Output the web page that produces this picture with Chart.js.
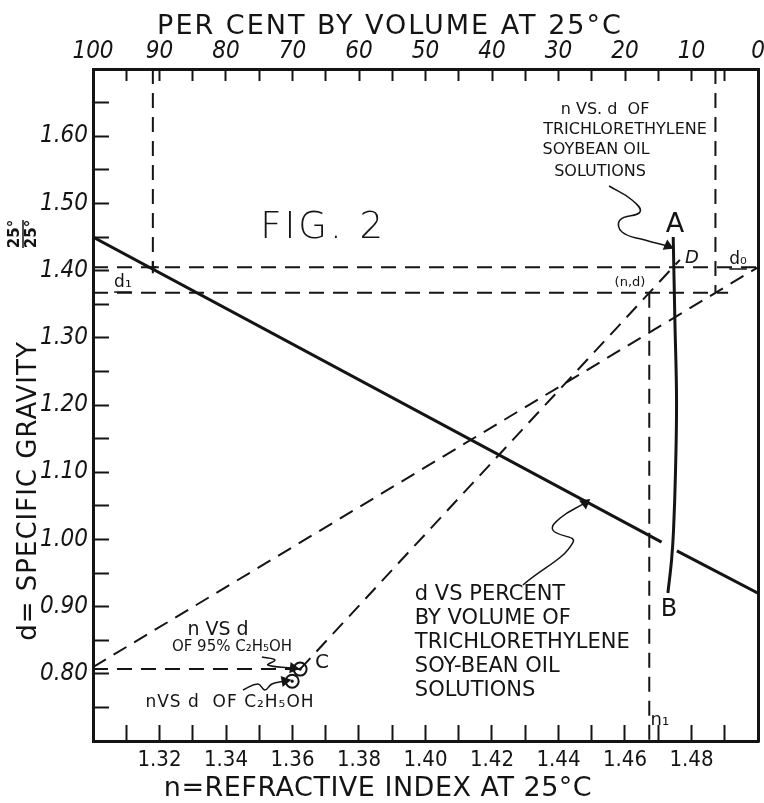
<!DOCTYPE html>
<html>
<head>
<meta charset="utf-8">
<title>Fig. 2</title>
<script src="https://cdn.jsdelivr.net/npm/chart.js@4.4.1/dist/chart.umd.min.js"></script>
<style>
    html, body { margin: 0; padding: 0; background: #fff; }
    canvas { display: block; }
</style>
</head>
<body>
<canvas id="fig2" width="764" height="803"></canvas>
<script>
// tick labels
const indexTicks = [1.32, 1.34, 1.36, 1.38, 1.40, 1.42, 1.44, 1.46, 1.48];
const gravityTicks = [0.80, 0.90, 1.00, 1.10, 1.20, 1.30, 1.40, 1.50, 1.60];
const percentTicks = [100, 90, 80, 70, 60, 50, 40, 30, 20, 10, 0];

// d vs per cent by volume (solid line, broken where A-B crosses it)
const pctVolume = [100, 14.5, 13.3, 12.2, 0];
const pctGravity = [1.45, 0.996, null, 0.983, 0.92];

// n vs d curve A - B
const abIndex = [1.4745, 1.4750, 1.4755, 1.4752, 1.4746, 1.4740, 1.4729];
const abGravity = [1.45, 1.3265, 1.2074, 1.1033, 1.0140, 0.9693, 0.9202];

// dashed construction lines (n, d)
const guideIndex = [
    [1.30, 1.50],      // d0
    [1.30, 1.491],     // d1
    [1.30, 1.3623],    // 95% alcohol level
    [1.30, 1.50],      // 0.81 -> d0
    [1.3623, 1.4765],  // C -> D
    [1.4673, 1.4673],  // n1
    [1.4872, 1.4872]
];
const guideGravity = [
    [1.405, 1.405],
    [1.367, 1.367],
    [0.807, 0.807],
    [0.81, 1.405],
    [0.807, 1.416],
    [1.367, 0.70],
    [1.70, 1.367]
];
// dashed line on the per cent scale
const guidePct = [91, 91];
const guidePctGravity = [1.70, 1.405];

// C (95% C2H5OH) and C2H5OH points
const markIndex = [1.3623, 1.3599];
const markGravity = [0.807, 0.789];

// leader arrows
const leaderIndex = [
    [1.4552, 1.4621, 1.4645, 1.4585, 1.4591, 1.4660, 1.4729],
    [1.4293, 1.4444, 1.4383, 1.4405, 1.4480],
    [1.3451, 1.3496, 1.3517, 1.3538, 1.3577],
    [1.3508, 1.3547, 1.3526, 1.3602]
];
const leaderGravity = [
    [1.5259, 1.5051, 1.4872, 1.4753, 1.4574, 1.4455, 1.4366],
    [0.9321, 0.9961, 1.0140, 1.0318, 1.0542],
    [0.7759, 0.7848, 0.7759, 0.7848, 0.7893],
    [0.825, 0.8205, 0.8131, 0.8086]
];
const leaderTurn = [114, 52, 80, 97];

const INK = '#141414';
const HAND = "'DejaVu Sans', sans-serif";
const NARROW = "'Liberation Sans Narrow', 'DejaVu Sans Condensed', 'DejaVu Sans', sans-serif";

// text written on the chart, placed at (n, d)
const notes = [
    { text: 'FIG. 2', at: [1.3692, 1.4634], font: '200 37px ' + HAND, spacing: '3px' },
    { text: 'n VS. d  OF', at: [1.4540, 1.6390], font: '16px ' + HAND },
    { text: 'TRICHLORETHYLENE', at: [1.4600, 1.6092], font: '16px ' + HAND },
    { text: 'SOYBEAN OIL', at: [1.4513, 1.5795], font: '16px ' + HAND },
    { text: 'SOLUTIONS', at: [1.4525, 1.5467], font: '16px ' + HAND },
    { text: 'A', at: [1.4750, 1.4679], font: '27px ' + HAND },
    { text: 'D', at: [1.4801, 1.4188], font: 'italic 18px ' + HAND },
    { text: 'd₀', at: [1.4940, 1.4158], font: '17px ' + HAND, underline: true },
    { text: '(n,d)', at: [1.4615, 1.3815], font: '13px ' + HAND },
    { text: 'd₁', at: [1.3090, 1.3815], font: '17px ' + HAND, underline: true },
    { text: 'B', at: [1.4732, 0.8949], font: '24px ' + HAND },
    { text: 'n₁', at: [1.4705, 0.7313], font: '18px ' + HAND },
    { text: 'd VS PERCENT', at: [1.3968, 0.9173], font: '21px ' + HAND, align: 'left' },
    { text: 'BY VOLUME OF', at: [1.3968, 0.8815], font: '21px ' + HAND, align: 'left' },
    { text: 'TRICHLORETHYLENE', at: [1.3968, 0.8458], font: '21px ' + HAND, align: 'left' },
    { text: 'SOY-BEAN OIL', at: [1.3968, 0.8101], font: '21px ' + HAND, align: 'left' },
    { text: 'SOLUTIONS', at: [1.3968, 0.7744], font: '21px ' + HAND, align: 'left' },
    { text: 'n VS d', at: [1.3376, 0.8652], font: '19px ' + HAND },
    { text: 'OF 95% C₂H₅OH', at: [1.3418, 0.8399], font: '15px ' + HAND },
    { text: 'C', at: [1.3689, 0.8161], font: '20px ' + HAND },
    { text: 'nVS d  OF C₂H₅OH', at: [1.3412, 0.7565], font: '17px ' + HAND, spacing: '1px' }
];

const notesPlugin = {
    id: 'notes',
    afterDraw(chart) {
        const { ctx, scales } = chart;
        ctx.save();
        ctx.fillStyle = INK;
        ctx.strokeStyle = INK;
        ctx.textBaseline = 'middle';
        notes.forEach(t => {
            const x = scales.x.getPixelForValue(t.at[0]);
            const y = scales.y.getPixelForValue(t.at[1]);
            ctx.font = t.font;
            ctx.letterSpacing = t.spacing || '0px';
            ctx.textAlign = t.align || 'center';
            ctx.fillText(t.text, x, y);
            if (t.underline) {
                const w = ctx.measureText(t.text).width;
                ctx.lineWidth = 1.5;
                ctx.beginPath();
                ctx.moveTo(x - w / 2, y + 9);
                ctx.lineTo(x + w / 2, y + 9);
                ctx.stroke();
            }
        });

        // axis titles
        ctx.textAlign = 'center';
        ctx.font = '27px ' + HAND;
        ctx.letterSpacing = '2px';
        ctx.fillText('PER CENT BY VOLUME AT 25°C', 390, 27);
        ctx.letterSpacing = '0.5px';
        ctx.fillText('n=REFRACTIVE INDEX AT 25°C', 378, 789);

        ctx.save();
        ctx.translate(29, 491);
        ctx.rotate(-Math.PI / 2);
        ctx.font = '26px ' + HAND;
        ctx.letterSpacing = '1px';
        ctx.fillText('d= SPECIFIC GRAVITY', 0, 0);
        ctx.restore();

        ctx.save();
        ctx.translate(23, 234);
        ctx.rotate(-Math.PI / 2);
        ctx.font = 'bold 15px ' + HAND;
        ctx.letterSpacing = '0px';
        ctx.fillText('25°', 0, -8);
        ctx.fillText('25°', 0, 9);
        ctx.lineWidth = 1.5;
        ctx.beginPath();
        ctx.moveTo(-14, 0);
        ctx.lineTo(14, 0);
        ctx.stroke();
        ctx.restore();

        ctx.restore();
    }
};

const pts = (xs, ys) => xs.map((x, i) => ({ x, y: ys[i] }));
const line = (data, extra) => Object.assign({
    data,
    showLine: true,
    borderColor: INK,
    borderWidth: 2,
    pointRadius: 0,
    fill: false,
    xAxisID: 'x',
    yAxisID: 'y'
}, extra);

const datasets = [
    line(pts(pctVolume, pctGravity), { xAxisID: 'xTop', borderWidth: 3, spanGaps: false }),
    line(pts(abIndex, abGravity), { borderWidth: 3, tension: 0.4 }),
    ...guideIndex.map((xs, i) => line(pts(xs, guideGravity[i]), { borderDash: [15, 9] })),
    line(pts(guidePct, guidePctGravity), { xAxisID: 'xTop', borderDash: [15, 9] }),
    ...leaderIndex.map((xs, i) => line(pts(xs, leaderGravity[i]), {
        borderWidth: 1.5,
        tension: 0.45,
        pointStyle: 'triangle',
        pointBackgroundColor: INK,
        pointBorderColor: INK,
        pointRadius: c => c.dataIndex === xs.length - 1 ? 5 : 0,
        pointRotation: leaderTurn[i]
    })),
    {
        data: pts(markIndex, markGravity),
        pointStyle: 'circle',
        pointRadius: 6.5,
        pointBorderWidth: 2,
        pointBorderColor: INK,
        pointBackgroundColor: 'rgba(255,255,255,0)'
    },
    {
        data: pts(markIndex, markGravity),
        pointRadius: 1.6,
        pointBorderWidth: 0,
        pointBackgroundColor: INK
    },
    {
        xAxisID: 'xTop',
        data: [{ x: guidePct[0], y: guidePctGravity[1] }],
        pointStyle: 'cross',
        pointRadius: 6,
        pointBorderWidth: 2,
        pointBorderColor: INK
    }
];

const inward = (len) => ({
    display: true,
    drawOnChartArea: false,
    drawTicks: true,
    tickLength: -len,
    tickWidth: 2,
    tickColor: INK
});
const edge = { display: true, color: INK, width: 3 };

// fixed box sizes, no label overhang padding
const fixSize = (w, h) => s => {
    if (w !== null) s.width = w;
    if (h !== null) s.height = h;
    s.paddingLeft = s.paddingRight = s.paddingTop = s.paddingBottom = 0;
};

new Chart(document.getElementById('fig2'), {
    type: 'scatter',
    data: { datasets },
    plugins: [notesPlugin],
    options: {
        responsive: false,
        animation: false,
        events: [],
        layout: { padding: { top: 0, right: 6, bottom: 0, left: 0 }, autoPadding: false },
        plugins: {
            legend: { display: false },
            tooltip: { enabled: false }
        },
        scales: {
            x: {
                type: 'linear',
                position: 'bottom',
                min: 1.30,
                max: 1.50,
                grid: inward(16),
                border: edge,
                ticks: {
                    stepSize: 0.01,
                    autoSkip: false,
                    maxTicksLimit: 100,
                    maxRotation: 0,
                    padding: 22,
                    color: INK,
                    font: { family: NARROW, size: 22 },
                    callback: v => indexTicks.includes(Math.round(v * 100) / 100) ? v.toFixed(2) : ''
                },
                afterFit: fixSize(null, 62)
            },
            xTop: {
                type: 'linear',
                position: 'top',
                min: 0,
                max: 100,
                reverse: true,
                grid: inward(12),
                border: edge,
                ticks: {
                    stepSize: 5,
                    autoSkip: false,
                    maxTicksLimit: 100,
                    maxRotation: 0,
                    padding: 15,
                    color: INK,
                    font: { family: NARROW, size: 24, style: 'italic' },
                    callback: v => percentTicks.includes(v) ? String(v) : ''
                },
                afterFit: fixSize(null, 69)
            },
            y: {
                type: 'linear',
                position: 'left',
                min: 0.70,
                max: 1.70,
                grid: inward(16),
                border: edge,
                ticks: {
                    stepSize: 0.05,
                    autoSkip: false,
                    maxTicksLimit: 100,
                    padding: 21,
                    color: INK,
                    font: { family: NARROW, size: 24, style: 'italic' },
                    callback: v => gravityTicks.includes(Math.round(v * 100) / 100) ? v.toFixed(2) : ''
                },
                afterFit: fixSize(93, null)
            },
            yRight: {
                type: 'linear',
                position: 'right',
                min: 0.70,
                max: 1.70,
                grid: { display: false },
                border: edge,
                ticks: { display: false },
                afterFit: fixSize(0, null)
            }
        }
    }
});
</script>
</body>
</html>
